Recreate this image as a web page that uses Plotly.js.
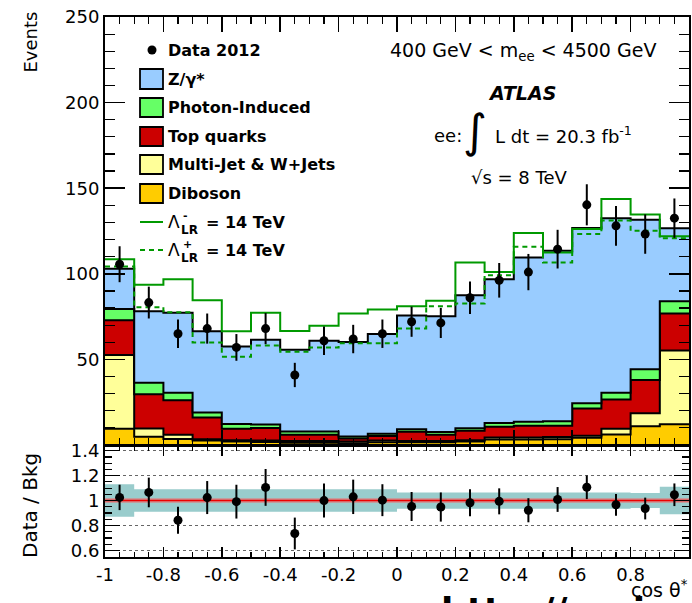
<!DOCTYPE html>
<html>
<head>
<meta charset="utf-8">
<script src="https://cdn.plot.ly/plotly-3.0.1.min.js"></script>
<style>
  html, body { margin: 0; padding: 0; background: #fff; }
  #chart { width: 692px; height: 603px; }
</style>
</head>
<body>
<div id="chart"></div>
<script>
// cos(theta*) bin centres, bin width 0.1
const cosTheta = [-0.95, -0.85, -0.75, -0.65, -0.55, -0.45, -0.35, -0.25, -0.15, -0.05,
                   0.05,  0.15,  0.25,  0.35,  0.45,  0.55,  0.65,  0.75,  0.85,  0.95];
const binWidth = 0.1;

// Background expectations (events per bin), in stacking order from the bottom
const diboson       = [9.5, 4.8, 3.5, 2.6, 2.0, 1.8, 1.3, 1.3, 1.0, 1.6, 1.6, 1.6, 2.0, 3.2, 3.2, 3.4, 4.2, 6.2, 10.9, 12.1];
const multijetWjets = [43.1, 4.9, 2.5, 0.8, 0.8, 0.8, 1.1, 1.1, 1.0, 1.0, 0.8, 0.8, 0.8, 1.2, 1.2, 1.2, 1.2, 3.3, 7.7, 43.1];
const topQuarks     = [20.2, 19.9, 20.2, 12.6, 6.7, 7.4, 3.6, 3.6, 1.8, 2.6, 5.4, 3.6, 5.5, 6.2, 6.8, 6.6, 15.9, 17.1, 19.3, 21.6];
const photonInduced = [6.7, 6.8, 4.3, 3.0, 2.8, 2.0, 1.9, 1.9, 1.2, 1.4, 1.4, 1.6, 1.5, 2.2, 2.4, 2.6, 3.1, 3.9, 6.3, 7.2];
const zGammaStar    = [23.5, 41.7, 46.7, 47.4, 45.2, 49.5, 47.7, 53.0, 55.1, 58.2, 66.4, 67.6, 77.7, 84.0, 95.9, 99.6, 102.4, 102.0, 87.4, 42.6];

// Contact-interaction predictions (total events per bin)
const lambdaMinus = [108.5, 93.6, 96.8, 84.6, 66.4, 77.2, 66.6, 69.7, 76.8, 79.1, 81.0, 84.2, 106.6, 101.0, 123.8, 112.5, 126.2, 143.7, 134.6, 121.9];
const lambdaPlus  = [104.2, 80.5, 77.5, 59.9, 51.6, 58.1, 54.4, 57.0, 59.5, 59.5, 68.1, 81.0, 82.6, 99.1, 115.8, 106.6, 123.2, 131.1, 125.2, 120.7];

// Data 2012 and its statistical uncertainty
const data2012    = [105.6, 83.2, 65.0, 68.0, 57.0, 68.0, 40.9, 60.9, 61.9, 65.0, 72.0, 71.3, 86.0, 96.2, 101.0, 114.4, 140.3, 128.0, 123.2, 132.5];
const data2012Err = [10.5, 9.3, 8.3, 8.8, 7.8, 9.1, 7.1, 8.3, 8.3, 8.3, 8.8, 8.8, 9.5, 10.1, 10.6, 11.3, 12.0, 11.6, 11.5, 11.5];

// Relative systematic uncertainty on the background
const bkgSystRel = [0.13, 0.09, 0.09, 0.09, 0.09, 0.09, 0.09, 0.09, 0.09, 0.09, 0.065, 0.065, 0.065, 0.065, 0.065, 0.065, 0.065, 0.065, 0.06, 0.11];

// Axis ticks
const mainYTicks  = [50, 100, 150, 200, 250];
const ratioYTicks = [0.6, 0.8, 1, 1.2, 1.4];
const xTicks      = [-1, -0.8, -0.6, -0.4, -0.2, 0, 0.2, 0.4, 0.6, 0.8, 1];
const xTickText   = ['-1', '-0.8', '-0.6', '-0.4', '-0.2', '0', '0.2', '0.4', '0.6', '0.8', '1'];

const FONT = 'DejaVu Sans, Liberation Sans, sans-serif';
const W = 692, H = 603, ML = 105, MR = 3, MT = 17, MB = 46;
const plotW = W - ML - MR, plotH = H - MT - MB;
const fx = p => (p - ML) / plotW;
const fy = p => (H - MB - p) / plotH;

// ---- derived quantities ----
const n = cosTheta.length;
const edges = cosTheta.map(c => +(c - binWidth / 2).toFixed(3)).concat([+(cosTheta[n - 1] + binWidth / 2).toFixed(3)]);
const step = arr => arr.concat([arr[arr.length - 1]]);
const addArr = (a, b) => a.map((v, i) => v + b[i]);

const components = [
  { vals: diboson,       color: '#FFCC00' },
  { vals: multijetWjets, color: '#FFFF99' },
  { vals: topQuarks,     color: '#CC0000' },
  { vals: photonInduced, color: '#66FF66' },
  { vals: zGammaStar,    color: '#99CCFF' }
];

const traces = [];
let cum = cosTheta.map(() => 0);
components.forEach((c, k) => {
  cum = addArr(cum, c.vals);
  traces.push({
    type: 'scatter', mode: 'lines', x: edges, y: step(cum),
    line: { shape: 'hv', color: '#000', width: 2 },
    fill: k === 0 ? 'tozeroy' : 'tonexty', fillcolor: c.color,
    xaxis: 'x', yaxis: 'y', hoverinfo: 'skip', showlegend: false
  });
});
const totalBkg = cum.slice();

traces.push({
  type: 'scatter', mode: 'lines', x: edges, y: step(lambdaPlus),
  line: { shape: 'hv', color: '#009900', width: 2, dash: '5px,4px' },
  xaxis: 'x', yaxis: 'y', hoverinfo: 'skip', showlegend: false
});
traces.push({
  type: 'scatter', mode: 'lines', x: edges, y: step(lambdaMinus),
  line: { shape: 'hv', color: '#009900', width: 2 },
  xaxis: 'x', yaxis: 'y', hoverinfo: 'skip', showlegend: false
});
traces.push({
  type: 'scatter', mode: 'markers', x: cosTheta, y: data2012,
  marker: { color: '#000', size: 9 },
  error_y: { type: 'data', array: data2012Err, visible: true, color: '#000', thickness: 2, width: 0 },
  xaxis: 'x', yaxis: 'y', hoverinfo: 'skip', showlegend: false
});

// ---- ratio panel ----
const bandLo = bkgSystRel.map(s => 1 - s);
const bandHi = bkgSystRel.map(s => 1 + s);
const nominal = totalBkg.map(t => t / t);
const ratio = data2012.map((d, i) => d / totalBkg[i]);
const ratioErr = data2012Err.map((e, i) => e / totalBkg[i]);

traces.push({
  type: 'scatter', mode: 'lines', x: edges, y: step(bandLo),
  line: { shape: 'hv', width: 0, color: 'rgba(0,0,0,0)' },
  xaxis: 'x2', yaxis: 'y2', hoverinfo: 'skip', showlegend: false
});
traces.push({
  type: 'scatter', mode: 'lines', x: edges, y: step(bandHi),
  line: { shape: 'hv', width: 0, color: 'rgba(0,0,0,0)' },
  fill: 'tonexty', fillcolor: '#99CCCC',
  xaxis: 'x2', yaxis: 'y2', hoverinfo: 'skip', showlegend: false
});
traces.push({
  type: 'scatter', mode: 'lines', x: edges, y: step(nominal),
  line: { shape: 'hv', width: 4.5, color: 'rgba(255,90,90,0.55)' },
  xaxis: 'x2', yaxis: 'y2', hoverinfo: 'skip', showlegend: false
});
traces.push({
  type: 'scatter', mode: 'lines', x: edges, y: step(nominal),
  line: { shape: 'hv', width: 1.6, color: '#EE0000' },
  xaxis: 'x2', yaxis: 'y2', hoverinfo: 'skip', showlegend: false
});
traces.push({
  type: 'scatter', mode: 'markers', x: cosTheta, y: ratio,
  marker: { color: '#000', size: 9 },
  error_y: { type: 'data', array: ratioErr, visible: true, color: '#000', thickness: 2, width: 0 },
  xaxis: 'x2', yaxis: 'y2', hoverinfo: 'skip', showlegend: false
});

// ---- legend (drawn in paper coordinates) ----
const shapes = [];
const annotations = [];
const legendBoxes = [
  { y0: 69,  y1: 89,  color: '#99CCFF', label: 'Z/γ*' },
  { y0: 98,  y1: 117, color: '#66FF66', label: 'Photon-Induced' },
  { y0: 127, y1: 146, color: '#CC0000', label: 'Top quarks' },
  { y0: 155, y1: 174, color: '#FFFF99', label: 'Multi-Jet &amp; W+Jets' },
  { y0: 184, y1: 203, color: '#FFCC00', label: 'Diboson' }
];
const txt = (x, y, text, size, opts) => Object.assign({
  xref: 'paper', yref: 'paper', x: fx(x), y: fy(y), text: text, showarrow: false,
  xanchor: 'left', yanchor: 'middle', font: { family: FONT, size: size, color: '#000' },
  borderpad: 0
}, opts || {});

shapes.push({ type: 'circle', xref: 'paper', yref: 'paper',
  x0: fx(147.5), x1: fx(156.5), y0: fy(45.5), y1: fy(54.5), fillcolor: '#000', line: { width: 0 } });
annotations.push(txt(167, 50, '<b>Data 2012</b>', 16));
legendBoxes.forEach(b => {
  shapes.push({ type: 'rect', xref: 'paper', yref: 'paper',
    x0: fx(140), x1: fx(163), y0: fy(b.y1), y1: fy(b.y0),
    fillcolor: b.color, line: { color: '#000', width: 1.8 } });
  annotations.push(txt(167, (b.y0 + b.y1) / 2, '<b>' + b.label + '</b>', 16));
});
shapes.push({ type: 'line', xref: 'paper', yref: 'paper', x0: fx(140), x1: fx(163), y0: fy(222), y1: fy(222),
  line: { color: '#009900', width: 2 } });
shapes.push({ type: 'line', xref: 'paper', yref: 'paper', x0: fx(140), x1: fx(163), y0: fy(250), y1: fy(250),
  line: { color: '#009900', width: 2, dash: '5px,4px' } });
[[222, '-'], [250, '+']].forEach(([yy, sign]) => {
  annotations.push(txt(167, yy, 'Λ', 17));
  annotations.push(txt(180, yy + 8, '<b>LR</b>', 12));
  annotations.push(txt(182, yy - 6, '<b>' + sign + '</b>', 11));
  annotations.push(txt(205, yy, '<b>= 14 TeV</b>', 16));
});

// ---- info text ----
annotations.push(txt(523, 52, '400 GeV &lt; m<sub>ee</sub> &lt; 4500 GeV', 19, { xanchor: 'center' }));
annotations.push(txt(522, 93, '<b><i>ATLAS</i></b>', 19, { xanchor: 'center' }));
annotations.push(txt(433, 135, 'ee:', 18));
annotations.push(txt(475, 131, '∫', 46, { xanchor: 'center' }));
annotations.push(txt(494, 135, 'L dt = 20.3 fb<sup>-1</sup>', 18));
annotations.push(txt(519, 177, '√s = 8 TeV', 18, { xanchor: 'center' }));

// ---- axis titles ----
annotations.push(txt(30, 10, 'Events', 18, { xanchor: 'center', yanchor: 'top', textangle: -90 }));
annotations.push(txt(30, 505, 'Data / Bkg', 20, { xanchor: 'center', yanchor: 'middle', textangle: -90 }));
annotations.push(txt(689, 589, 'cos θ<sup>*</sup>', 19, { xanchor: 'right', yanchor: 'middle' }));
annotations.push(txt(440, 589, '<b>http://arxiv.org</b>', 36, { yanchor: 'top' }));

const mainBottom = fy(445), ratioTop = fy(446);

const axisCommon = {
  showline: true, linecolor: '#000', linewidth: 2, mirror: 'allticks',
  ticks: 'inside', tickcolor: '#000', zeroline: false, showgrid: false,
  tickfont: { family: FONT, size: 18, color: '#000' }
};

const layout = {
  width: W, height: H,
  margin: { l: ML, r: MR, t: MT, b: MB, pad: 0 },
  paper_bgcolor: '#fff', plot_bgcolor: '#fff',
  showlegend: false,
  xaxis: Object.assign({}, axisCommon, {
    domain: [0, 1], anchor: 'y', range: [-1, 1],
    tickvals: xTicks, ticktext: xTickText, showticklabels: false,
    ticklen: 15, tickwidth: 1.5,
    minor: { dtick: 0.05, tick0: 0, ticks: 'inside', ticklen: 7, tickwidth: 1.2, tickcolor: '#000' }
  }),
  yaxis: Object.assign({}, axisCommon, {
    domain: [mainBottom, 1], anchor: 'x', range: [0, 250],
    tickvals: mainYTicks, ticklen: 20, tickwidth: 1.5,
    minor: { dtick: 10, tick0: 0, ticks: 'inside', ticklen: 10, tickwidth: 1.2, tickcolor: '#000' }
  }),
  xaxis2: Object.assign({}, axisCommon, {
    domain: [0, 1], anchor: 'y2', range: [-1, 1],
    tickvals: xTicks, ticktext: xTickText,
    ticklen: 10, tickwidth: 1.5,
    minor: { dtick: 0.05, tick0: 0, ticks: 'inside', ticklen: 5, tickwidth: 1.2, tickcolor: '#000' }
  }),
  yaxis2: Object.assign({}, axisCommon, {
    domain: [0, ratioTop], anchor: 'x2', range: [0.547, 1.438],
    tickvals: ratioYTicks, ticklen: 15, tickwidth: 1.5,
    showgrid: true, gridcolor: '#666', griddash: 'dot', gridwidth: 1,
    minor: { dtick: 0.05, tick0: 0, ticks: 'inside', ticklen: 7, tickwidth: 1.2, tickcolor: '#000' }
  }),
  shapes: shapes,
  annotations: annotations
};

Plotly.newPlot('chart', traces, layout, { staticPlot: true, displayModeBar: false });
</script>
</body>
</html>
